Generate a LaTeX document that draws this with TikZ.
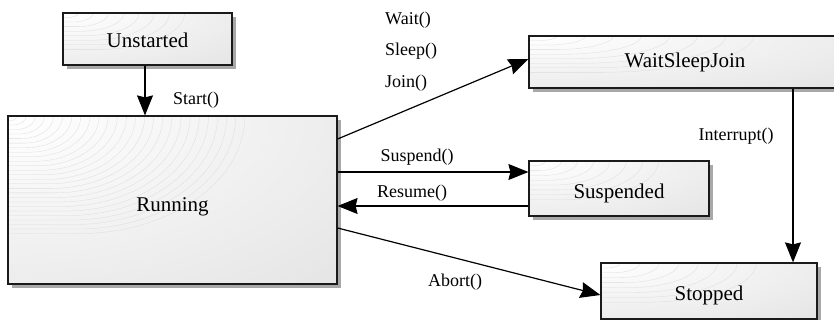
\documentclass[tikz,border=0pt]{standalone}
\usepackage{fontspec}
\setmainfont{Liberation Serif}
\usetikzlibrary{arrows.meta}

\definecolor{boxgray}{HTML}{E6E6E6}
\definecolor{shadowgray}{HTML}{A8A8A8}
\definecolor{edgeline}{HTML}{1A1A1A}
\definecolor{grain}{HTML}{DCDCDC}

% Caption lowered by #1 without changing the box it reports
\newcommand\lowered[2]{\raisebox{-#1}[\height][\depth]{#2}}

% State box: name, left, top, right, bottom (y grows downward), caption.
% Draws the drop shadow, the light gray fill with a whitened, finely
% ruled corner at the top left, and then the framed node itself.
\newcommand\statebox[6]{%
  \fill[shadowgray] (#2+4,#3+4) rectangle (#4+4,#5+4);
  \begin{scope}
    \clip (#2,#3) rectangle (#4,#5);
    \fill[boxgray] (#2,#3) rectangle (#4,#5);
    \pgfmathsetmacro\ra{0.72*(#4-#2)}
    \pgfmathsetmacro\rb{0.70*(#5-#3)}
    \pgfmathtruncatemacro\nl{\rb/4.5}
    \shade[inner color=white, outer color=boxgray]
      (#2,#3) ellipse ({1.9*\ra} and {1.9*\rb});
    \foreach \k in {1,...,\nl} {
      \pgfmathsetmacro\fa{\k/\nl}
      \draw[grain, line width=0.3pt]
        (#2,{#3+\fa*\rb}) -- ({#2+0.3*\ra*\fa},{#3+\fa*\rb})
        arc[start angle=90, end angle=0,
            x radius={0.7*\ra*\fa}, y radius={\fa*\rb}];
    }
  \end{scope}
  \node[statenode, minimum width={(#4-#2)*1pt}, minimum height={(#5-#3)*1pt}]
    (#1) at ({(#2+#4)/2},{(#3+#5)/2}) {#6};
}

\begin{document}
\begin{tikzpicture}[x=1pt, y=-1pt,
  statenode/.style={draw=edgeline, line width=1.2pt, rectangle, inner sep=0pt,
    font=\fontsize{21}{25}\selectfont},
  conn/.style={draw=black, line width=1.2pt,
    -{Stealth[length=20pt, width=16pt, inset=2pt]}},
  edgelabel/.style={inner sep=0pt, font=\fontsize{18}{21}\selectfont}]

\useasboundingbox (0,0) rectangle (834,320);
\clip (0,0) rectangle (834,320);

% states
\statebox{unstarted}{63}{13}{232}{65}{\lowered{1pt}{Unstarted}}
\statebox{running}{8}{116}{337}{284}{\lowered{7pt}{Running}}
\statebox{wsj}{529}{36}{841}{88}{WaitSleepJoin}
\statebox{suspended}{529}{161}{709}{216}{\lowered{5pt}{Suspended}}
\statebox{stopped}{601}{263}{817}{319}{\lowered{4pt}{Stopped}}

% transitions
\draw[conn] ([xshift=-2.5pt]unstarted.south) -- ([xshift=-27.5pt]running.north);
\draw[conn] ([yshift=61pt]running.east) -- ([yshift=3pt]wsj.west);
\draw[conn] ([yshift=28pt]running.east) -- ([yshift=16.5pt]suspended.west);
\draw[conn] ([yshift=-17.5pt]suspended.west) -- ([yshift=-6pt]running.east);
\draw[conn] ([yshift=-28pt]running.east) -- ([yshift=-4pt]stopped.west);
\draw[conn] ([xshift=108pt]wsj.south) -- ([xshift=84pt]stopped.north);

% transition labels
\node[edgelabel] (lstart)   at (196,100) {Start()};
\node[edgelabel, anchor=west] (lwait)  at (385,20) {Wait()};
\node[edgelabel, anchor=west] (lsleep) at (385,51) {Sleep()};
\node[edgelabel, anchor=west] (ljoin)  at (385,83) {Join()};
\node[edgelabel] (lsuspend) at (417,157) {Suspend()};
\node[edgelabel] (lresume)  at (412,193) {Resume()};
\node[edgelabel] (labort)   at (455,282) {Abort()};
\node[edgelabel] (linterr)  at (736,136) {Interrupt()};

\end{tikzpicture}
\end{document}
